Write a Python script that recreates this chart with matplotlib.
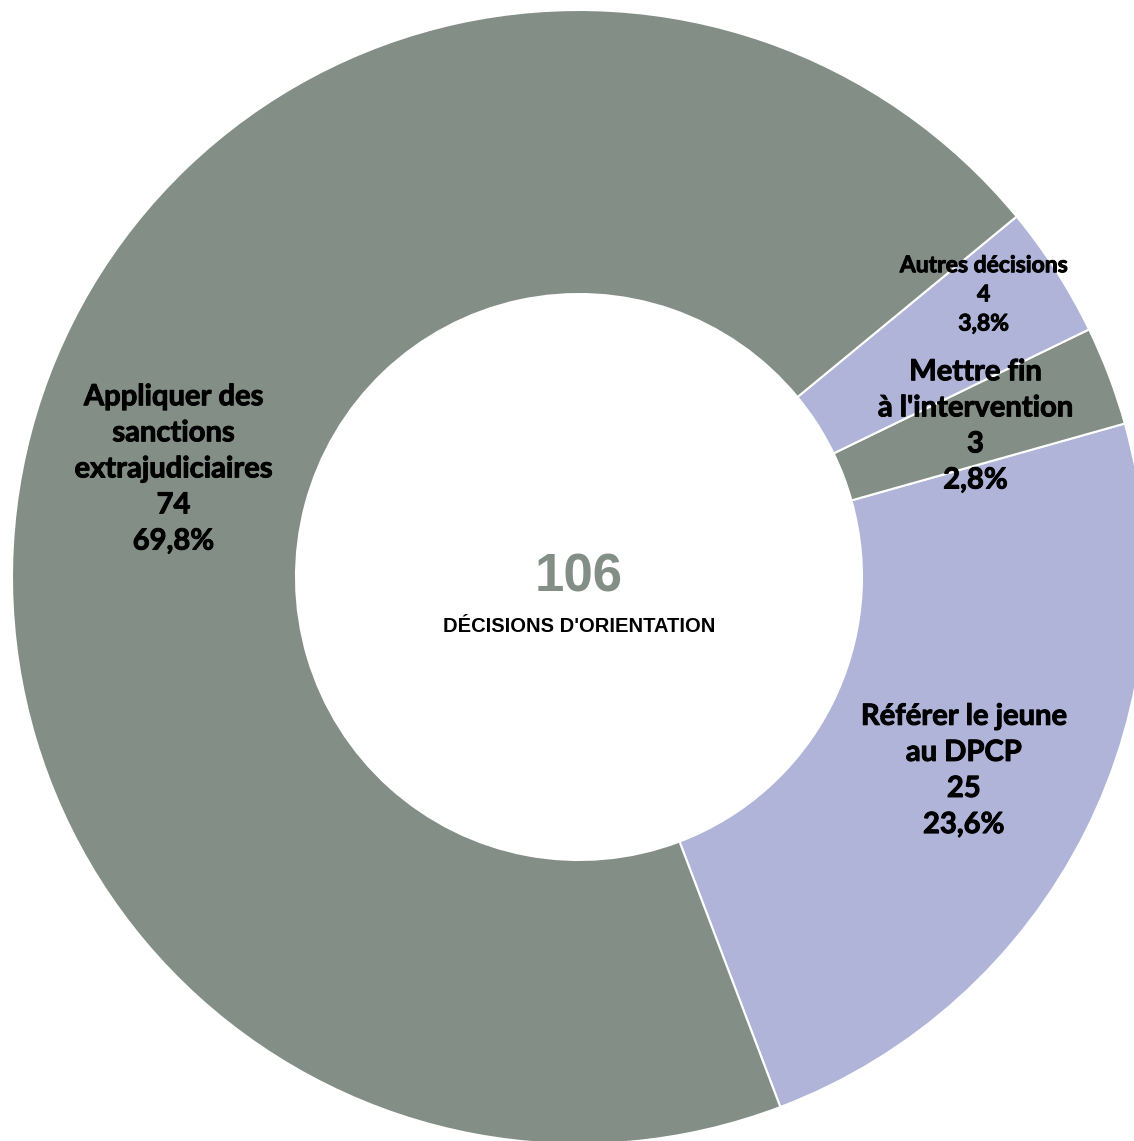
import numpy as np
import matplotlib
matplotlib.use("Agg")
from matplotlib import pyplot as plt
from matplotlib import patheffects as pe

# donnees
labels = ["Référer le jeune\nau DPCP", "Mettre fin\nà l'intervention",
          "Autres décisions", "Appliquer des\nsanctions\nextrajudiciaires"]
values = [25, 3, 4, 74]
pcts = ["23,6%", "2,8%", "3,8%", "69,8%"]
colors = ["#AFB4D8", "#838E87", "#AFB4D8", "#838E87"]
total = 106
center_title = "DÉCISIONS D'ORIENTATION"

W, H = 1134, 1141
fig = plt.figure(figsize=(W / 100, H / 100), dpi=100)
ax = fig.add_axes([0, 0, 1, 1])

cx, cy, R, r_in = 579, H - 577, 567, 283

wedges, _ = ax.pie(values, colors=colors, startangle=-69.2, counterclock=True,
                   radius=R, center=(cx, cy), frame=True,
                   wedgeprops=dict(width=R - r_in, edgecolor="white", linewidth=1.5))
ax.set_xlim(0, W)
ax.set_ylim(0, H)
ax.set_aspect("equal")
ax.axis("off")

font = "Lato"
sizes = [21, 21, 16.5, 21]
dist = [0.76, 0.748, 0.87, 0.74]
shift = [0, 0, 2.2, 0]  # decalage angulaire (deg)
epais = [pe.withStroke(linewidth=0.7, foreground="black")]
for w, lab, v, p, fs, d, s in zip(wedges, labels, values, pcts, sizes, dist, shift):
    mid = np.deg2rad((w.theta1 + w.theta2) / 2 + s)
    x = cx + R * d * np.cos(mid)
    y = cy + R * d * np.sin(mid)
    ax.text(x, y, f"{lab}\n{v}\n{p}", ha="center", va="center", fontsize=fs,
            fontweight="bold", family=font, linespacing=1.48, color="black",
            path_effects=epais)

ax.text(cx, cy - 1, str(total), ha="center", va="center", fontsize=38,
        fontweight="bold", family="Liberation Sans", color="#838E87")
ax.text(cx, cy - 50, center_title, ha="center", va="center", fontsize=14.5,
        fontweight="bold", family="Liberation Sans", color="black")

fig.savefig("out.png", dpi=100, facecolor="white")
